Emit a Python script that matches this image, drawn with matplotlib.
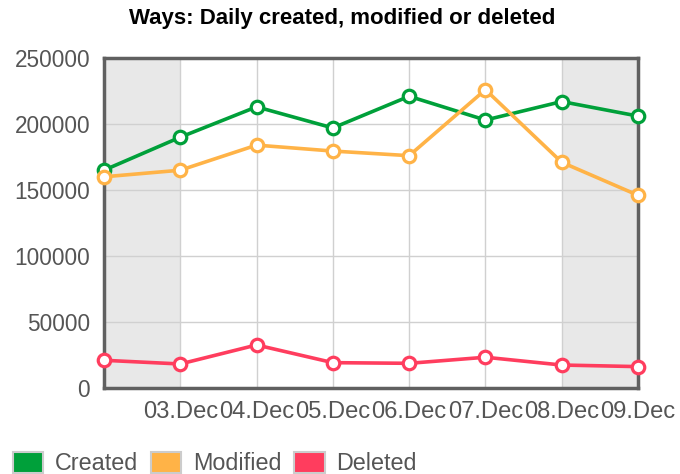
import matplotlib
matplotlib.use("Agg")
import matplotlib.pyplot as plt
from matplotlib.patches import Patch

plt.rcParams['font.family'] = ['Liberation Sans', 'DejaVu Sans']

# data
days = ['02.Dec', '03.Dec', '04.Dec', '05.Dec', '06.Dec', '07.Dec', '08.Dec', '09.Dec']
created = [165000, 190000, 213000, 197000, 221000, 203000, 217000, 206000]
modified = [160000, 165000, 184000, 179500, 176000, 226000, 171000, 146000]
deleted = [21000, 18200, 32600, 19200, 18700, 23300, 17400, 16200]
series_names = ['Created', 'Modified', 'Deleted']
colors = ['#00A03A', '#FFB347', '#FF3D5E']
# shaded day intervals (start index)
weekend_starts = [0, 6]


def main():
    fig = plt.figure(figsize=(6.8, 4.74), dpi=100)
    ax = fig.add_axes([104 / 680, 1 - 388 / 474, 534 / 680, 330 / 474])

    x = list(range(len(days)))

    # grey bands for the weekend days
    for s in weekend_starts:
        ax.axvspan(s, s + 1, color='#e8e8e8', zorder=0, lw=0)

    for vals, col in zip([created, modified, deleted], colors):
        ax.plot(x, vals, color=col, lw=2.6, marker='o', markersize=9,
                markerfacecolor='white', markeredgecolor=col,
                markeredgewidth=2.3, zorder=3, clip_on=False)

    ax.set_xlim(0, len(days) - 1)
    ax.set_ylim(0, 250000)
    ax.set_xticks(x[1:])
    ax.set_xticklabels(days[1:])
    ax.set_yticks(range(0, 250001, 50000))
    ax.grid(True, color='#d0d0d0', lw=1, zorder=1)
    ax.set_axisbelow(True)
    ax.tick_params(length=0, labelsize=16.3, colors='#555555', pad=10)
    ax.tick_params(axis='x', labelsize=17.1, pad=9)
    for sp in ax.spines.values():
        sp.set_color('#606060')
        sp.set_linewidth(2.5)

    fig.text(0.503, 0.962, 'Ways: Daily created, modified or deleted',
             ha='center', va='center', fontsize=16, fontweight='bold')

    handles = [Patch(facecolor=c, edgecolor='#cccccc', lw=1.5) for c in colors]
    leg = fig.legend(handles, series_names, loc='lower left',
                     bbox_to_anchor=(-0.012, -0.047), ncol=3, frameon=False,
                     fontsize=16.8, handlelength=1.3, handleheight=1.0,
                     handletextpad=0.5, columnspacing=0.55)
    for t in leg.get_texts():
        t.set_color('#555555')

    fig.savefig('out.png', dpi=100)


if __name__ == "__main__":
    main()
